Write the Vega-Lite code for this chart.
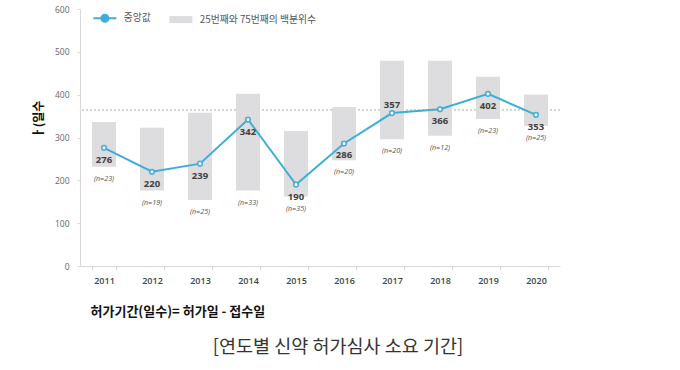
{
  "$schema": "https://vega.github.io/schema/vega-lite/v6.json",
  "width": 480,
  "height": 257,
  "autosize": {"type": "none"},
  "padding": {"left": 80, "top": 9, "right": 120, "bottom": 104},
  "background": "white",
  "config": {"view": {"stroke": null}, "font": "Noto Sans CJK KR"},
  "title": {
    "text": "[연도별 신약 허가심사 소요 기간]",
    "orient": "bottom",
    "anchor": "middle",
    "frame": "group",
    "dx": 18,
    "offset": 19,
    "fontSize": 18.5,
    "fontWeight": "normal",
    "color": "#333333",
    "font": "Noto Sans CJK KR"
  },
  "data": {
    "values": [
      {"year": "2011", "med": 276, "q25": 232, "q75": 336, "nlab": "(n=23)"},
      {"year": "2012", "med": 220, "q25": 176, "q75": 323, "nlab": "(n=19)"},
      {"year": "2013", "med": 239, "q25": 154, "q75": 358, "nlab": "(n=25)"},
      {"year": "2014", "med": 342, "q25": 176, "q75": 402, "nlab": "(n=33)"},
      {"year": "2015", "med": 190, "q25": 162, "q75": 315, "nlab": "(n=35)"},
      {"year": "2016", "med": 286, "q25": 247, "q75": 371, "nlab": "(n=20)"},
      {"year": "2017", "med": 357, "q25": 296, "q75": 479, "nlab": "(n=20)"},
      {"year": "2018", "med": 366, "q25": 304, "q75": 479, "nlab": "(n=12)"},
      {"year": "2019", "med": 402, "q25": 343, "q75": 442, "nlab": "(n=23)"},
      {"year": "2020", "med": 353, "q25": 327, "q75": 400, "nlab": "(n=25)"}
    ]
  },
  "layer": [
    {
      "mark": {"type": "rule", "color": "#d0d0d0", "strokeDash": [2, 2], "strokeWidth": 1},
      "encoding": {"y": {"datum": 365, "type": "quantitative"}}
    },
    {
      "mark": {"type": "bar"},
      "encoding": {
        "x": {
          "field": "year",
          "type": "ordinal",
          "scale": {"paddingInner": 0.5, "paddingOuter": 0.25},
          "axis": {
            "title": "허가기간(일수)= 허가일 - 접수일",
            "titleAnchor": "start",
            "titleX": 10,
            "titleY": 45.5,
            "titleBaseline": "middle",
            "titleFontSize": 13,
            "titleFontWeight": "bold",
            "titleColor": "#111111",
            "titleFont": "Noto Sans CJK KR",
            "labelAngle": 0,
            "labelFontSize": 9,
            "labelFontWeight": 600,
            "labelColor": "#444444",
            "labelFont": "Open Sans",
            "labelPadding": 6,
            "tickBand": "extent",
            "tickColor": "#d9d9d9",
            "tickSize": 4,
            "domainColor": "#d9d9d9"
          }
        },
        "y": {
          "field": "q25",
          "type": "quantitative",
          "scale": {"domain": [0, 600], "nice": false},
          "axis": {
            "values": [0, 100, 200, 300, 400, 500, 600],
            "grid": false,
            "title": "ㅏ(일수",
            "titleX": -42,
            "titleY": 110,
            "titleAngle": 270,
            "titleBaseline": "middle",
            "titleFontSize": 12,
            "titleFontWeight": "bold",
            "titleColor": "#111111",
            "titleFont": "Noto Sans CJK KR",
            "labelFontSize": 8.5,
            "labelColor": "#666666",
            "labelFont": "Open Sans",
            "labelPadding": 8,
            "tickColor": "#d9d9d9",
            "tickSize": 3,
            "domainColor": "#d9d9d9"
          }
        },
        "y2": {"field": "q75"},
        "color": {
          "datum": "25번째와 75번째의 백분위수",
          "type": "nominal",
          "scale": {
            "domain": ["중앙값", "25번째와 75번째의 백분위수"],
            "range": ["#3eaed8", "#dddcde"]
          },
          "legend": {
            "orient": "none",
            "legendX": 20,
            "legendY": 4,
            "direction": "horizontal",
            "title": null,
            "symbolSize": 400,
            "labelOffset": 14,
            "columnPadding": 18,
            "labelFontSize": 9.8,
            "labelColor": "#555555",
            "labelFont": "Noto Sans CJK KR",
            "encode": {
              "symbols": {
                "update": {
                  "shape": {"signal": "datum.value === '중앙값' ? 'M-1.15,0H-0.35M0.35,0H1.15M0.35,0A0.35,0.35,0,1,1,-0.35,0A0.35,0.35,0,1,1,0.35,0' : 'M-1.15,-0.35H1.15V0.35H-1.15Z'"},
                  "fill": {"signal": "datum.value === '중앙값' ? '#ffffff' : '#dddcde'"},
                  "stroke": {"signal": "datum.value === '중앙값' ? '#3eaed8' : '#dddcde'"},
                  "strokeWidth": {"signal": "datum.value === '중앙값' ? 2 : 0"},
                  "opacity": {"value": 1},
                  "fillOpacity": {"value": 1},
                  "strokeOpacity": {"value": 1}
                }
              }
            }
          }
        }
      }
    },
    {
      "mark": {"type": "line", "strokeWidth": 2},
      "encoding": {
        "x": {"field": "year", "type": "ordinal"},
        "y": {"field": "med", "type": "quantitative"},
        "color": {"datum": "중앙값", "type": "nominal"}
      }
    },
    {
      "mark": {"type": "point", "filled": false, "fill": "#ffffff", "stroke": "#3eaed8", "strokeWidth": 1.5, "size": 22, "opacity": 1},
      "encoding": {
        "x": {"field": "year", "type": "ordinal"},
        "y": {"field": "med", "type": "quantitative"}
      }
    },
    {
      "transform": [{"filter": "datum.year !== '2017'"}],
      "mark": {"type": "text", "dy": 12, "baseline": "middle", "fontSize": 9.5, "fontWeight": "bold", "color": "#404040", "font": "Open Sans"},
      "encoding": {
        "x": {"field": "year", "type": "ordinal"},
        "y": {"field": "med", "type": "quantitative"},
        "text": {"field": "med"}
      }
    },
    {
      "transform": [{"filter": "datum.year === '2017'"}],
      "mark": {"type": "text", "dy": -8, "baseline": "middle", "fontSize": 9.5, "fontWeight": "bold", "color": "#404040", "font": "Open Sans"},
      "encoding": {
        "x": {"field": "year", "type": "ordinal"},
        "y": {"field": "med", "type": "quantitative"},
        "text": {"field": "med"}
      }
    },
    {
      "mark": {"type": "text", "dy": 12, "baseline": "middle", "fontSize": 7.2, "fontStyle": "italic", "color": "#555555", "font": "Open Sans"},
      "encoding": {
        "x": {"field": "year", "type": "ordinal"},
        "y": {"field": "q25", "type": "quantitative"},
        "text": {"field": "nlab"}
      }
    }
  ]
}
